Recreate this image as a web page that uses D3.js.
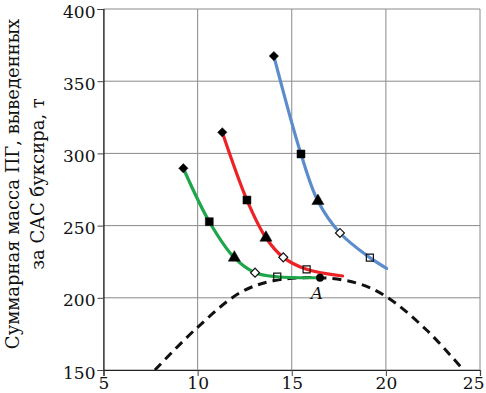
<!DOCTYPE html>
<html>
<head>
<meta charset="utf-8">
<script src="https://cdn.jsdelivr.net/npm/d3@7"></script>
<style>
  body { margin: 0; background: #fff; }
  svg { display: block; }
</style>
</head>
<body>
<div id="chart"></div>
<script>
// Значения
const xTicks = [5, 10, 15, 20, 25];
const yTicks = [150, 200, 250, 300, 350, 400];

const blueX = [14.05, 15.49, 16.39, 17.56, 19.15, 20.04];
const blueY = [367.4, 299.6, 267.0, 244.9, 227.8, 220.4];

const redX = [11.31, 12.62, 13.63, 14.55, 15.79, 17.70];
const redY = [314.6, 267.7, 241.6, 228.0, 219.7, 215.1];

const greenX = [9.24, 10.62, 11.95, 13.05, 14.23, 16.50];
const greenY = [289.7, 252.7, 227.8, 217.4, 214.6, 213.9];

// Маркеры на первых пяти точках каждой кривой
const markerTypes = ['diamond', 'square', 'triangle', 'diamondOpen', 'squareOpen'];

// Штриховая кривая
const dashX = [7.73, 9.95, 12.25, 14.02, 16.5, 18.5, 20.0, 22.16, 24.05];
const dashY = [150, 179, 203.5, 211.8, 213.9, 210, 201, 177.7, 151];

const pointA = { x: 16.5, y: 213.9, label: 'A' };

const yLabel1 = 'Суммарная масса ПГ, выведенных';
const yLabel2 = 'за САС буксира, т';

const width = 486;
const height = 393;
const margin = { top: 9, right: 6, bottom: 23, left: 103.5 };
const serif = '"DejaVu Serif", "Liberation Serif", serif';

const svg = d3.select('#chart')
  .append('svg')
  .attr('width', width)
  .attr('height', height);

const x = d3.scaleLinear()
  .domain([5, 25])
  .range([margin.left, width - margin.right]);

const y = d3.scaleLinear()
  .domain([150, 400])
  .range([height - margin.bottom, margin.top]);

// Сетка
svg.append('g')
  .selectAll('line.vx')
  .data(xTicks)
  .enter()
  .append('line')
  .attr('x1', d => x(d)).attr('x2', d => x(d))
  .attr('y1', y(150)).attr('y2', y(400))
  .attr('stroke', '#8a8a8a')
  .attr('stroke-width', 1);

svg.append('g')
  .selectAll('line.hy')
  .data(yTicks)
  .enter()
  .append('line')
  .attr('x1', x(5)).attr('x2', x(25))
  .attr('y1', d => y(d)).attr('y2', d => y(d))
  .attr('stroke', '#8a8a8a')
  .attr('stroke-width', 1);

// Оси
const xAxis = svg.append('g')
  .attr('transform', `translate(0,${y(150)})`)
  .call(d3.axisBottom(x).tickValues(xTicks).tickSize(6).tickFormat(d3.format('d')));

const yAxis = svg.append('g')
  .attr('transform', `translate(${x(5)},0)`)
  .call(d3.axisLeft(y).tickValues(yTicks).tickSize(6).tickFormat(d3.format('d')));

[xAxis, yAxis].forEach(a => {
  a.select('.domain').attr('stroke', '#222').attr('stroke-width', 1.2);
  a.selectAll('.tick line').attr('stroke', '#444');
  a.selectAll('.tick text')
    .attr('font-family', serif)
    .attr('font-size', 17)
    .attr('fill', '#111');
});
xAxis.selectAll('.tick text').attr('dy', '0.62em').attr('y', 8);
// последняя подпись упирается в край, как на рисунке
xAxis.selectAll('.tick text').filter(d => d === 25)
  .attr('text-anchor', 'end')
  .attr('x', 4);
yAxis.selectAll('.tick text').attr('x', -8).attr('dy', '0.48em');

// Подпись оси Y
const yl = svg.append('text')
  .attr('transform', `translate(0,${184}) rotate(-90)`)
  .attr('text-anchor', 'middle')
  .attr('font-family', serif)
  .attr('font-size', 18)
  .attr('fill', '#111');
yl.append('tspan').attr('x', 0).attr('y', 19).text(yLabel1);
yl.append('tspan').attr('x', 0).attr('y', 44).text(yLabel2);

// Кривые
svg.append('clipPath').attr('id', 'plot-clip')
  .append('rect')
  .attr('x', x(5)).attr('y', y(400))
  .attr('width', x(25) - x(5)).attr('height', y(150) - y(400));

const line = d3.line()
  .x(d => x(d[0]))
  .y(d => y(d[1]))
  .curve(d3.curveCatmullRom.alpha(0.5));

svg.append('path')
  .datum(d3.zip(dashX, dashY))
  .attr('clip-path', 'url(#plot-clip)')
  .attr('d', line)
  .attr('fill', 'none')
  .attr('stroke', '#111')
  .attr('stroke-width', 3)
  .attr('stroke-dasharray', '9,6');

const series = [
  { xs: blueX, ys: blueY, color: '#5b8ccb' },
  { xs: redX, ys: redY, color: '#ec2227' },
  { xs: greenX, ys: greenY, color: '#1fa64a' }
];

series.forEach(s => {
  svg.append('path')
    .datum(d3.zip(s.xs, s.ys))
    .attr('d', line)
    .attr('fill', 'none')
    .attr('stroke', s.color)
    .attr('stroke-width', 3.2)
    .attr('stroke-linecap', 'round');
});

// Маркеры
const symbolFor = {
  diamond: d3.symbol().type(d3.symbolSquare).size(44),
  square: d3.symbol().type(d3.symbolSquare).size(64),
  triangle: d3.symbol().type(d3.symbolTriangle).size(64),
  diamondOpen: d3.symbol().type(d3.symbolSquare).size(40),
  squareOpen: d3.symbol().type(d3.symbolSquare).size(50)
};

series.forEach(s => {
  markerTypes.forEach((t, i) => {
    const open = t.endsWith('Open');
    const rot = t.startsWith('diamond') ? 45 : 0;
    svg.append('path')
      .attr('d', symbolFor[t]())
      .attr('transform', `translate(${x(s.xs[i])},${y(s.ys[i])}) rotate(${rot})`)
      .attr('fill', open ? (t === 'diamondOpen' ? '#fff' : 'none') : '#000')
      .attr('stroke', '#111')
      .attr('stroke-width', open ? 1.2 : 0.5);
  });
});

// Точка A
svg.append('path')
  .attr('d', d3.symbol().type(d3.symbolCircle).size(48)())
  .attr('transform', `translate(${x(pointA.x)},${y(pointA.y)})`)
  .attr('fill', '#000');

svg.append('text')
  .attr('x', x(pointA.x) - 3)
  .attr('y', y(pointA.y) + 21)
  .attr('text-anchor', 'middle')
  .attr('font-family', serif)
  .attr('font-style', 'italic')
  .attr('font-size', 17)
  .attr('fill', '#111')
  .text(pointA.label);
</script>
</body>
</html>
